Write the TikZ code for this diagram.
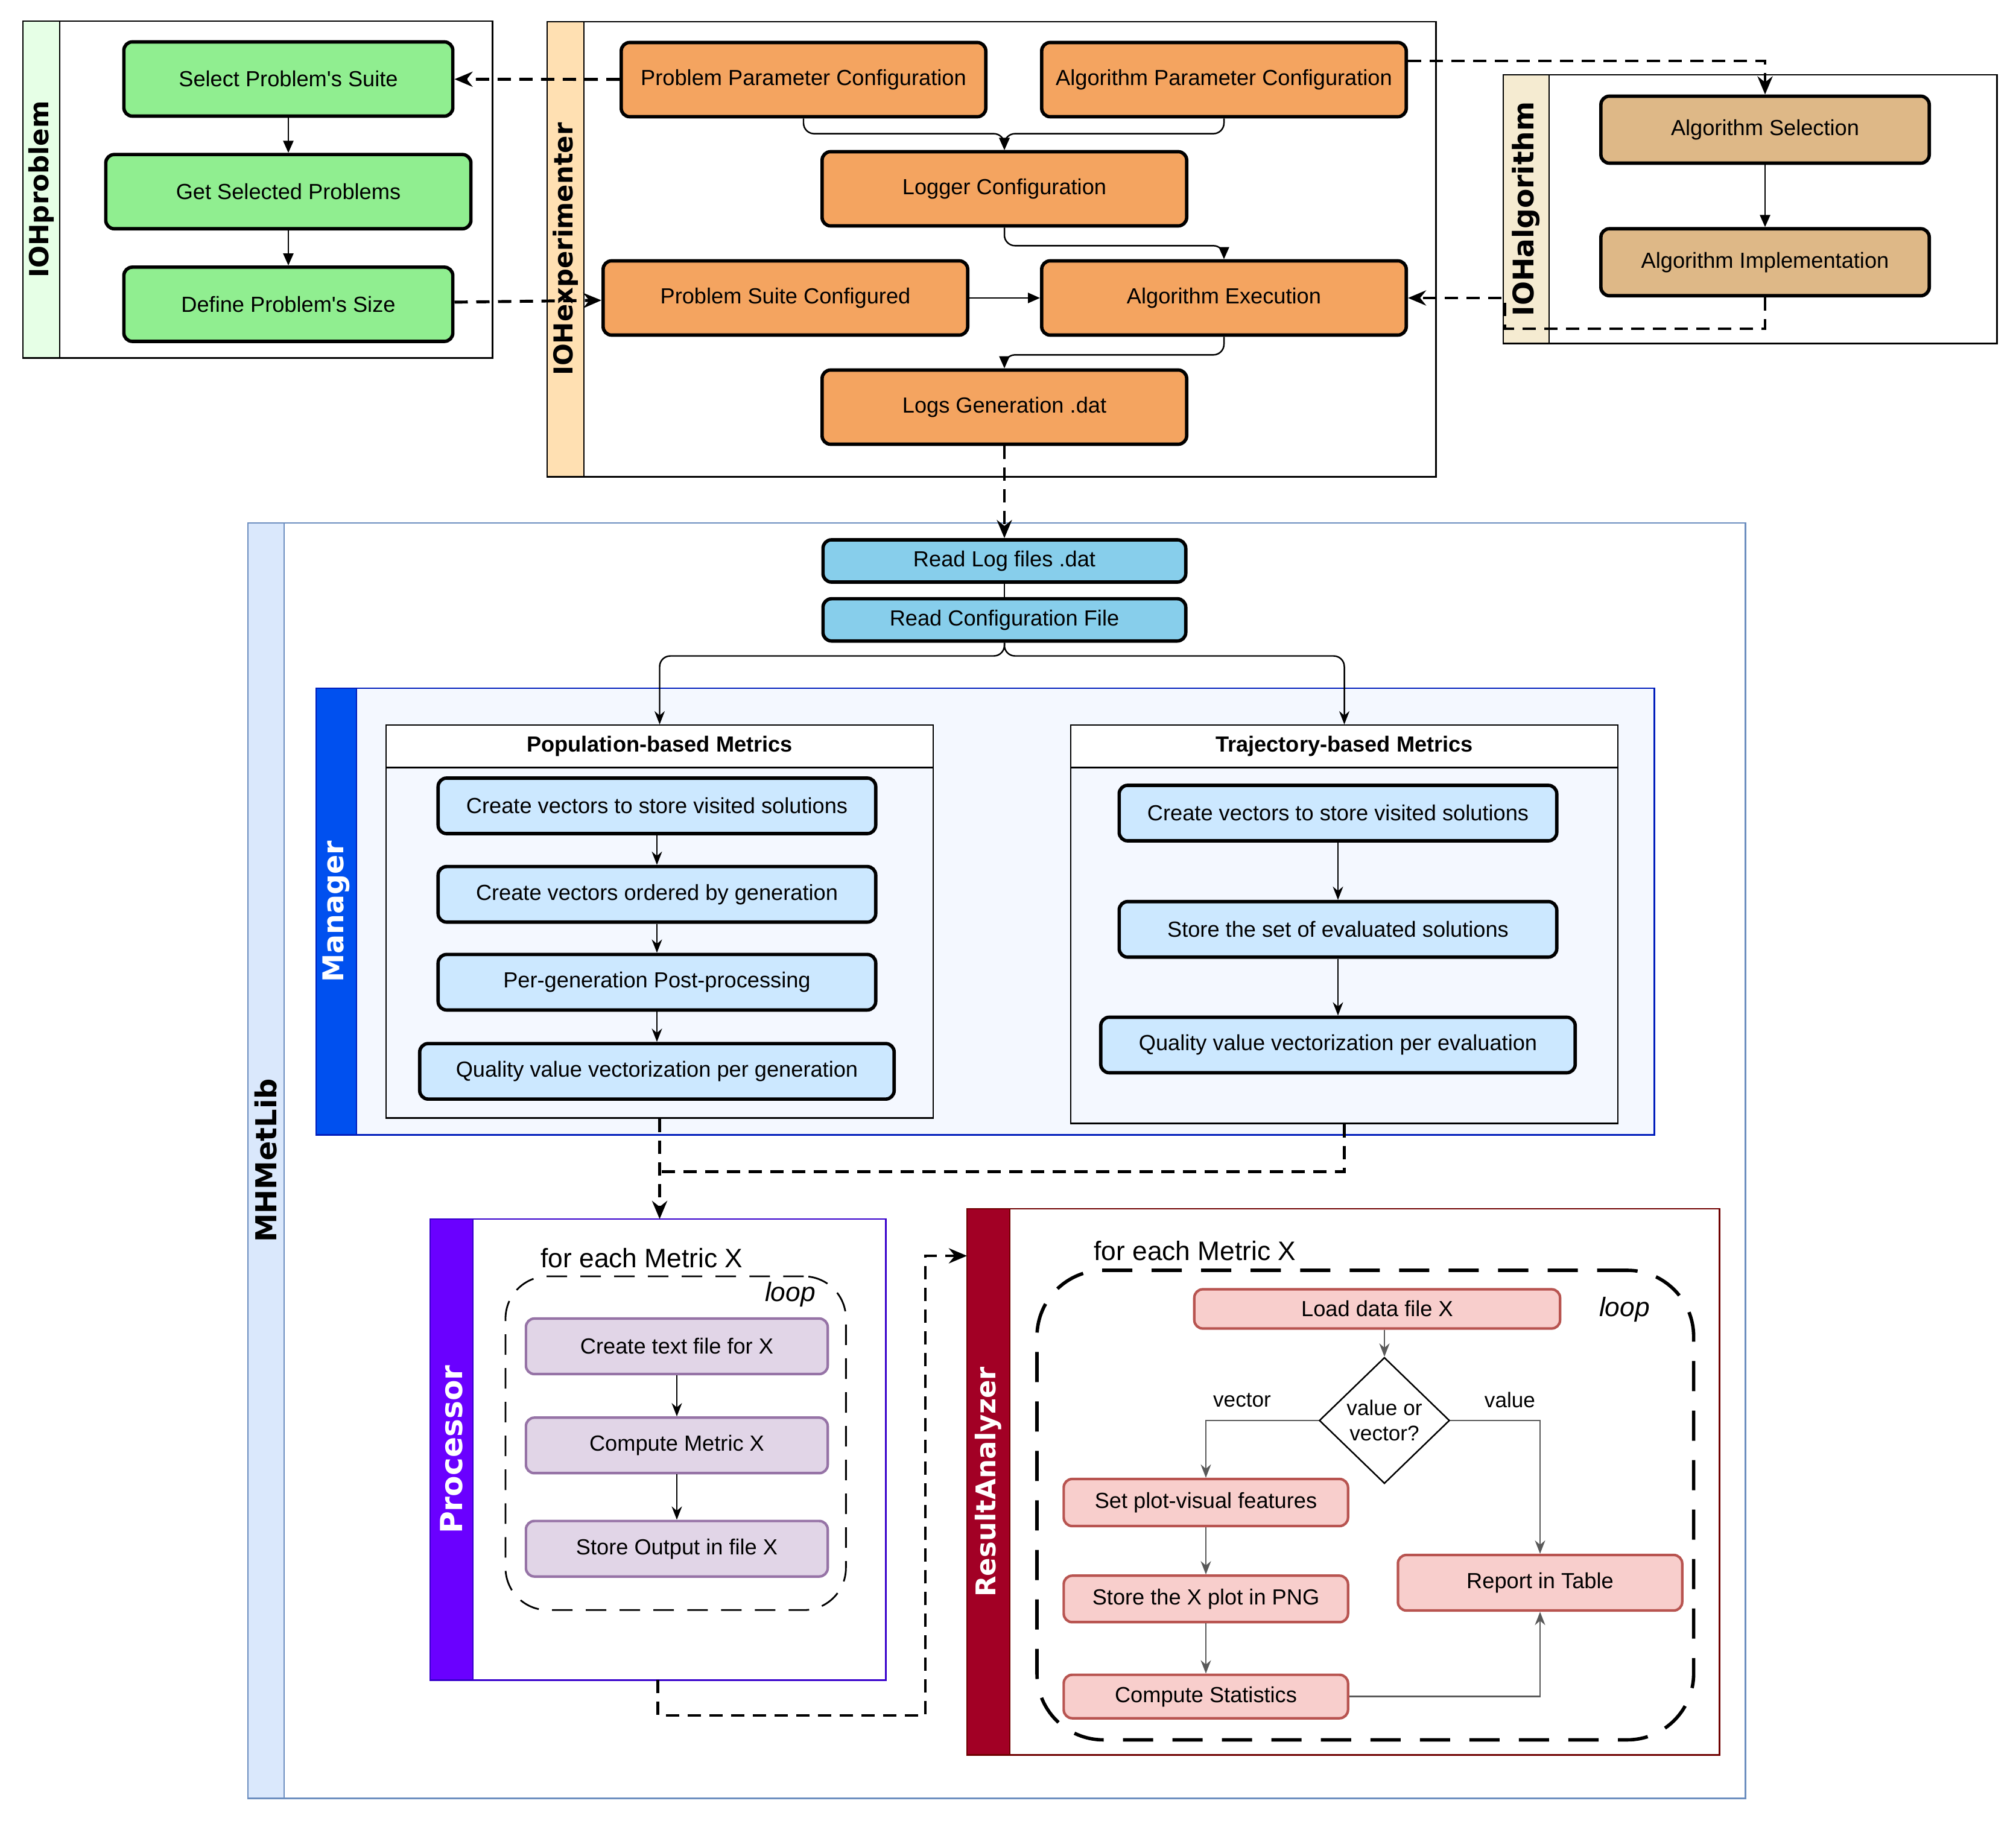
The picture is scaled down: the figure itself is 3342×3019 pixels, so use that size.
\documentclass[tikz,border=0pt]{standalone}
\usepackage{fontspec}
\setmainfont{Liberation Sans}[Ligatures=TeXOff]
\newfontfamily\stripfont{DejaVu Sans}
\usepackage{xcolor}
\usetikzlibrary{arrows.meta,
positioning,
shapes.geometric,
calc}

\definecolor{probgreen}{HTML}{90EE90}
\definecolor{probstrip}{HTML}{E6FFE6}
\definecolor{expfill}{HTML}{F4A460}
\definecolor{expstrip}{HTML}{FFE0B2}
\definecolor{algfill}{HTML}{DEB887}
\definecolor{algstrip}{HTML}{F5EBD1}
\definecolor{readfill}{HTML}{87CEEB}
\definecolor{metfill}{HTML}{CCE8FF}
\definecolor{libstrip}{HTML}{DAE8FC}
\definecolor{libline}{HTML}{6C8EBF}
\definecolor{mgrstrip}{HTML}{0050EF}
\definecolor{mgrline}{HTML}{001DBC}
\definecolor{mgrfill}{HTML}{F4F8FF}
\definecolor{procstrip}{HTML}{6A00FF}
\definecolor{procline}{HTML}{3700CC}
\definecolor{procfill}{HTML}{E1D5E7}
\definecolor{procedge}{HTML}{9673A6}
\definecolor{rastrip}{HTML}{A20025}
\definecolor{raline}{HTML}{6F0000}
\definecolor{rafill}{HTML}{F8CECC}
\definecolor{raedge}{HTML}{B85450}

\begin{document}
\begin{tikzpicture}[
    x=0.01cm, y=-0.01cm,
    node distance=0.58cm,
    >=Stealth,
    box/.style={
        draw,
        line width=1.6pt,
        rounded corners=4pt,
        align=center,
        inner sep=2pt,
        font=\fontsize{10.3}{12.5}\selectfont
    },
    greenbox/.style={box, fill=probgreen, minimum height=1.23cm},
    orangebox/.style={box, fill=expfill, minimum width=6.04cm, minimum height=1.23cm},
    tanbox/.style={box, fill=algfill, minimum width=5.44cm, minimum height=1.11cm},
    readbox/.style={box, fill=readfill, minimum width=6.01cm, minimum height=0.70cm},
    metricbox/.style={box, fill=metfill, minimum width=7.25cm, minimum height=0.92cm},
    procbox/.style={box, draw=procedge, line width=1.2pt, fill=procfill, minimum width=5.0cm, minimum height=0.92cm},
    rabox/.style={box, draw=raedge, line width=1.2pt, fill=rafill, minimum width=4.71cm},
    lane/.style={draw, line width=0.8pt, anchor=north west, inner sep=0pt, outer sep=0pt},
    striptext/.style={font=\stripfont\bfseries\fontsize{#1}{15}\selectfont},
    striptext/.default=13,
    panel/.style={draw, line width=0.7pt, anchor=north west, fill=mgrfill, minimum width=9.06cm},
    panelhead/.style={panel, fill=white, minimum height=0.70cm, font=\bfseries\fontsize{10.3}{12.5}\selectfont},
    loophead/.style={font=\fontsize{12.6}{15}\selectfont},
    looptag/.style={font=\itshape\fontsize{12.6}{15}\selectfont},
    flow/.style={line width=0.7pt, -{Triangle[length=0.2cm,width=0.17cm]}},
    link/.style={line width=0.7pt, -{Stealth[length=0.22cm,width=0.17cm]}},
    dashlink/.style={line width=1.4pt, dash pattern=on 0.22cm off 0.14cm, -{Stealth[length=0.3cm,width=0.25cm]}}
]
\useasboundingbox (0,0) rectangle (3342,3019);

% IOHproblem
\node[lane, minimum width=7.78cm, minimum height=5.58cm] (iohprob) at (38,35) {};
\node[lane, fill=probstrip, minimum width=0.61cm, minimum height=5.58cm] (probbar) at (38,35) {};
\node[striptext=12.4, rotate=90] (probtitle) at (probbar.center) {IOHproblem};

\node[greenbox, minimum width=5.45cm] (sel) at (478,131) {Select Problem's Suite};
\node[greenbox, minimum width=6.05cm, below=of sel] (get) {Get Selected Problems};
\node[greenbox, minimum width=5.45cm, below=of get] (def) {Define Problem's Size};

\draw[flow] (sel) -- (get);
\draw[flow] (get) -- (def);

% IOHexperimenter
\node[lane, minimum width=14.73cm, minimum height=7.54cm] (iohexp) at (907,36) {};
\node[lane, fill=expstrip, minimum width=0.61cm, minimum height=7.54cm] (expbar) at (907,36) {};
\node[striptext=12.3, rotate=90] (exptitle) at (expbar.center) {IOHexperimenter};

\node[orangebox] (ppc) at (1332,132) {Problem Parameter Configuration};
\node[orangebox] (apc) at (2029,132) {Algorithm Parameter Configuration};
\node[orangebox] (logc) at (1665,313) {Logger Configuration};
\node[orangebox] (psc) at (1302,494) {Problem Suite Configured};
\node[orangebox] (aex) at (2029,494) {Algorithm Execution};
\node[orangebox] (logs) at (1665,675) {Logs Generation .dat};

\draw[flow, rounded corners=5pt] (ppc.south) |- ($(logc.north)+(0,-27)$) -- (logc.north);
\draw[flow, rounded corners=5pt] (apc.south) |- ($(logc.north)+(0,-27)$) -- (logc.north);
\draw[flow, rounded corners=5pt] (logc.south) -- ++(0,30) -| (aex.north);
\draw[flow] (psc) -- (aex);
\draw[flow, rounded corners=5pt] (aex.south) -- ++(0,30) -| (logs.north);

% IOHalgorithm
\node[lane, minimum width=8.18cm, minimum height=4.45cm] (iohalg) at (2492,124) {};
\node[lane, fill=algstrip, minimum width=0.76cm, minimum height=4.45cm] (algbar) at (2492,124) {};
\node[striptext=13.4, rotate=90] (algtitle) at (algbar.center) {IOHalgorithm};

\node[tanbox] (asel) at (2926,215) {Algorithm Selection};
\node[tanbox, below=1.03cm of asel] (aimp) {Algorithm Implementation};

\draw[flow] (asel) -- (aimp);

% links between the IOH parts
\coordinate (algturn) at (2495,545);
\draw[dashlink] (ppc) -- (sel);
\draw[dashlink] (def) -- (psc);
\draw[dashlink] ($(apc.east)+(0,-31)$) -| (asel.north);
\draw[dashlink] (aimp.south) |- (algturn) |- (aex.east);

% MHMetLib
\node[lane, draw=libline, fill=white, minimum width=24.81cm, minimum height=21.13cm] (mhm) at (411,867) {};
\node[lane, draw=libline, fill=libstrip, minimum width=0.60cm, minimum height=21.13cm] (mhmbar) at (411,867) {};
\node[striptext=13.6, rotate=90] (mhmtitle) at (mhmbar.center) {MHMetLib};

\node[readbox] (rlog) at (1665,930) {Read Log files .dat};
\node[readbox, below=0.22cm of rlog] (rcfg) {Read Configuration File};

\draw[dashlink] (logs) -- (rlog);
\draw[line width=0.7pt] (rlog) -- (rcfg);

% Manager
\node[lane, draw=mgrline, fill=mgrfill, minimum width=22.17cm, minimum height=7.40cm] (mgr) at (524,1141) {};
\node[lane, draw=mgrline, fill=mgrstrip, minimum width=0.67cm, minimum height=7.40cm] (mgrbar) at (524,1141) {};
\node[striptext=13.5, text=white, rotate=90] (mgrtitle) at (mgrbar.center) {Manager};

\node[panel, minimum height=6.51cm] (pop) at (639,1201) {};
\node[panelhead] (pophead) at (639,1201) {Population-based Metrics};
\node[panel, minimum height=6.60cm] (traj) at (1774,1201) {};
\node[panelhead] (trajhead) at (1774,1201) {Trajectory-based Metrics};

\node[metricbox] (p1) at (1089,1336) {Create vectors to store visited solutions};
\node[metricbox, below=0.49cm of p1] (p2) {Create vectors ordered by generation};
\node[metricbox, below=0.48cm of p2] (p3) {Per-generation Post-processing};
\node[metricbox, minimum width=7.86cm, below=0.50cm of p3] (p4) {Quality value vectorization per generation};

\node[metricbox] (t1) at (2218,1348) {Create vectors to store visited solutions};
\node[metricbox, below=0.95cm of t1] (t2) {Store the set of evaluated solutions};
\node[metricbox, minimum width=7.86cm, below=0.94cm of t2] (t3) {Quality value vectorization per evaluation};

\draw[link, rounded corners=5pt] (rcfg.south) -- ++(0,22) -| (pophead.north);
\draw[link, rounded corners=5pt] (rcfg.south) -- ++(0,22) -| (trajhead.north);
\draw[link] (p1) -- (p2);
\draw[link] (p2) -- (p3);
\draw[link] (p3) -- (p4);
\draw[link] (t1) -- (t2);
\draw[link] (t2) -- (t3);

% Processor
\node[lane, draw=procline, fill=white, minimum width=7.55cm, minimum height=7.64cm] (proc) at (713,2021) {};
\node[lane, draw=procline, fill=procstrip, minimum width=0.71cm, minimum height=7.64cm] (procbar) at (713,2021) {};
\node[striptext=14.3, text=white, rotate=90] (proctitle) at (procbar.center) {Processor};

\node[loophead] (prochead) at (1064,2086) {for each Metric X};
\node[lane, line width=0.8pt, dash pattern=on 0.34cm off 0.22cm, rounded corners=0.7cm, minimum width=5.64cm, minimum height=5.53cm] (procloop) at (838,2116) {};
\node[looptag] (proctag) at (1310,2146) {loop};

\node[procbox] (c1) at (1122,2232) {Create text file for X};
\node[procbox, below=0.68cm of c1] (c2) {Compute Metric X};
\node[procbox, below=0.75cm of c2] (c3) {Store Output in file X};

\draw[link] (c1) -- (c2);
\draw[link] (c2) -- (c3);

% Manager to Processor
\draw[dashlink, -] (traj.south) |- ($(pop.south)+(0,88)$);
\draw[dashlink] (pop.south) -- (pop.south |- proc.north);

% ResultAnalyzer
\node[lane, draw=raline, fill=white, minimum width=12.47cm, minimum height=9.05cm] (ra) at (1603,2004) {};
\node[lane, draw=raline, fill=rastrip, minimum width=0.71cm, minimum height=9.05cm] (rabar) at (1603,2004) {};
\node[striptext=12.8, text=white, rotate=90] (ratitle) at (rabar.center) {ResultAnalyzer};

\node[loophead] (rahead) at (1981,2074) {for each Metric X};
\node[lane, line width=1.6pt, dash pattern=on 0.5cm off 0.32cm, rounded corners=1.1cm, minimum width=10.88cm, minimum height=7.78cm] (raloop) at (1719,2106) {};
\node[looptag] (ratag) at (2693,2171) {loop};

\node[rabox, minimum width=6.06cm, minimum height=0.65cm] (load) at (2283,2170) {Load data file X};
\node[diamond, draw, line width=0.7pt, fill=white, minimum width=2.16cm, minimum height=2.09cm, inner sep=0pt, align=center, font=\fontsize{10}{12}\selectfont] (pick) at (2295,2355) {value or\\vector?};
\node[rabox, minimum height=0.78cm] (setp) at (1999,2491) {Set plot-visual features};
\node[rabox, minimum height=0.77cm, below=0.78cm of setp] (png) {Store the X plot in PNG};
\node[rabox, minimum height=0.72cm, below=0.83cm of png] (stats) {Compute Statistics};
\node[rabox, minimum height=0.92cm] (table) at (2553,2624) {Report in Table};

\node[font=\fontsize{10}{12}\selectfont] (veclabel) at (2059,2321) {vector};
\node[font=\fontsize{10}{12}\selectfont] (vallabel) at (2503,2321) {value};

\draw[link, draw=black!65] (load.south -| pick.north) -- (pick.north);
\draw[link, draw=black!65] (pick.west) -| (setp.north);
\draw[link, draw=black!65] (pick.east) -| (table.north);
\draw[link, draw=black!65] (setp) -- (png);
\draw[link, draw=black!65] (png) -- (stats);
\draw[link, draw=black!65] (stats.east) -| (table.south);

% Processor to ResultAnalyzer
\coordinate (procturn) at (1534,2844);
\draw[dashlink] (proc.south) |- (procturn) |- ($(ra.north west)+(0,78)$);

\end{tikzpicture}
\end{document}
